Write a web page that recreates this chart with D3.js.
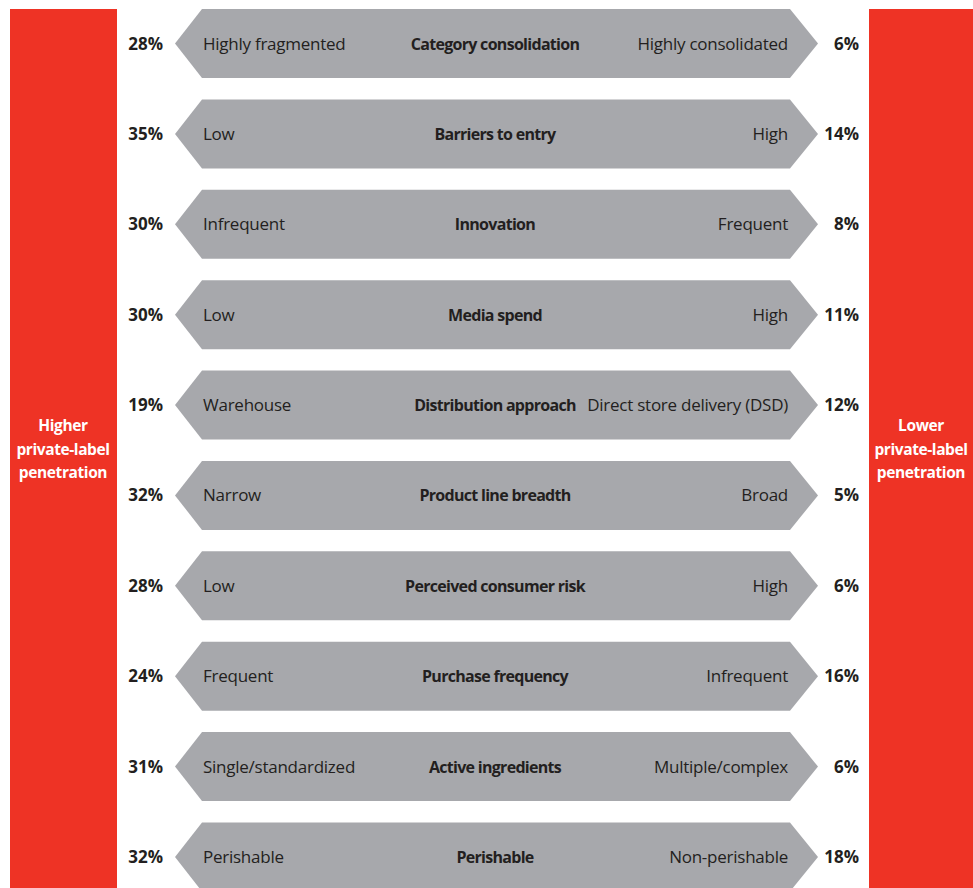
<!DOCTYPE html>
<html>
<head>
<meta charset="utf-8">
<script src="https://cdn.jsdelivr.net/npm/d3@7"></script>
<style>
  body { margin: 0; background: #fff; }
  svg { display: block; }
</style>
</head>
<body>
<div id="chart"></div>
<script>
const factors = ["Category consolidation", "Barriers to entry", "Innovation", "Media spend",
    "Distribution approach", "Product line breadth", "Perceived consumer risk",
    "Purchase frequency", "Active ingredients", "Perishable"];
const leftLabels = ["Highly fragmented", "Low", "Infrequent", "Low", "Warehouse", "Narrow",
    "Low", "Frequent", "Single/standardized", "Perishable"];
const rightLabels = ["Highly consolidated", "High", "Frequent", "High", "Direct store delivery (DSD)",
    "Broad", "High", "Infrequent", "Multiple/complex", "Non-perishable"];
const leftValues = [28, 35, 30, 30, 19, 32, 28, 24, 31, 32];
const rightValues = [6, 14, 8, 11, 12, 5, 6, 16, 6, 18];
const sideTitles = [["Higher", "private-label", "penetration"], ["Lower", "private-label", "penetration"]];

const width = 973;
const height = 888;
const red = "#ee3325";
const gray = "#a7a8ac";
const ink = "#231f20";
const font = "'Open Sans', 'DejaVu Sans', sans-serif";

const svg = d3.select("#chart")
    .append("svg")
    .attr("width", width)
    .attr("height", height);

// row centres: first at 43.5, last at 857
const y = d3.scalePoint().domain(d3.range(factors.length)).range([43.5, 857]);

// red side bars
svg.append("rect").attr("x", 10).attr("y", 9).attr("width", 107).attr("height", height - 9).attr("fill", red);
svg.append("rect").attr("x", 869).attr("y", 9).attr("width", width - 869).attr("height", height - 9).attr("fill", red);

[63, 921].forEach((cx, i) => {
    svg.append("text")
        .attr("x", cx)
        .attr("y", 431)
        .attr("text-anchor", "middle")
        .attr("fill", "#fff")
        .attr("font-family", font)
        .attr("font-weight", "bold")
        .attr("font-size", "15.5px")
        .attr("letter-spacing", "-0.4px")
        .selectAll("tspan")
        .data(sideTitles[i])
        .join("tspan")
        .attr("x", cx)
        .attr("dy", (d, j) => j === 0 ? 0 : 23.5)
        .text(d => d);
});

const half = 34.5;
const x0 = 175, x1 = 202, x2 = 790, x3 = 818;

const rows = svg.append("g")
    .selectAll("g")
    .data(factors)
    .join("g")
    .attr("transform", (d, i) => `translate(0,${y(i)})`);

rows.append("path")
    .attr("d", `M${x0},0 L${x1},${-half} L${x2},${-half} L${x3},0 L${x2},${half} L${x1},${half} Z`)
    .attr("fill", gray);

rows.append("text")
    .attr("x", 495)
    .attr("y", 6)
    .attr("text-anchor", "middle")
    .attr("font-family", font)
    .attr("font-weight", "bold")
    .attr("font-size", "16px")
    .attr("letter-spacing", "-0.7px")
    .attr("fill", ink)
    .text(d => d);

rows.append("text")
    .attr("x", 203)
    .attr("y", 6)
    .attr("font-family", font)
    .attr("font-size", "17px")
    .attr("letter-spacing", "-0.25px")
    .attr("fill", ink)
    .text((d, i) => leftLabels[i]);

rows.append("text")
    .attr("x", 788)
    .attr("y", 6)
    .attr("text-anchor", "end")
    .attr("font-family", font)
    .attr("font-size", "17px")
    .attr("letter-spacing", "-0.25px")
    .attr("fill", ink)
    .text((d, i) => rightLabels[i]);

rows.append("text")
    .attr("x", 163)
    .attr("y", 6)
    .attr("text-anchor", "end")
    .attr("font-family", font)
    .attr("font-weight", "bold")
    .attr("font-size", "17px")
    .attr("fill", ink)
    .text((d, i) => leftValues[i] + "%");

rows.append("text")
    .attr("x", 859)
    .attr("y", 6)
    .attr("text-anchor", "end")
    .attr("font-family", font)
    .attr("font-weight", "bold")
    .attr("font-size", "17px")
    .attr("fill", ink)
    .text((d, i) => rightValues[i] + "%");
</script>
</body>
</html>
